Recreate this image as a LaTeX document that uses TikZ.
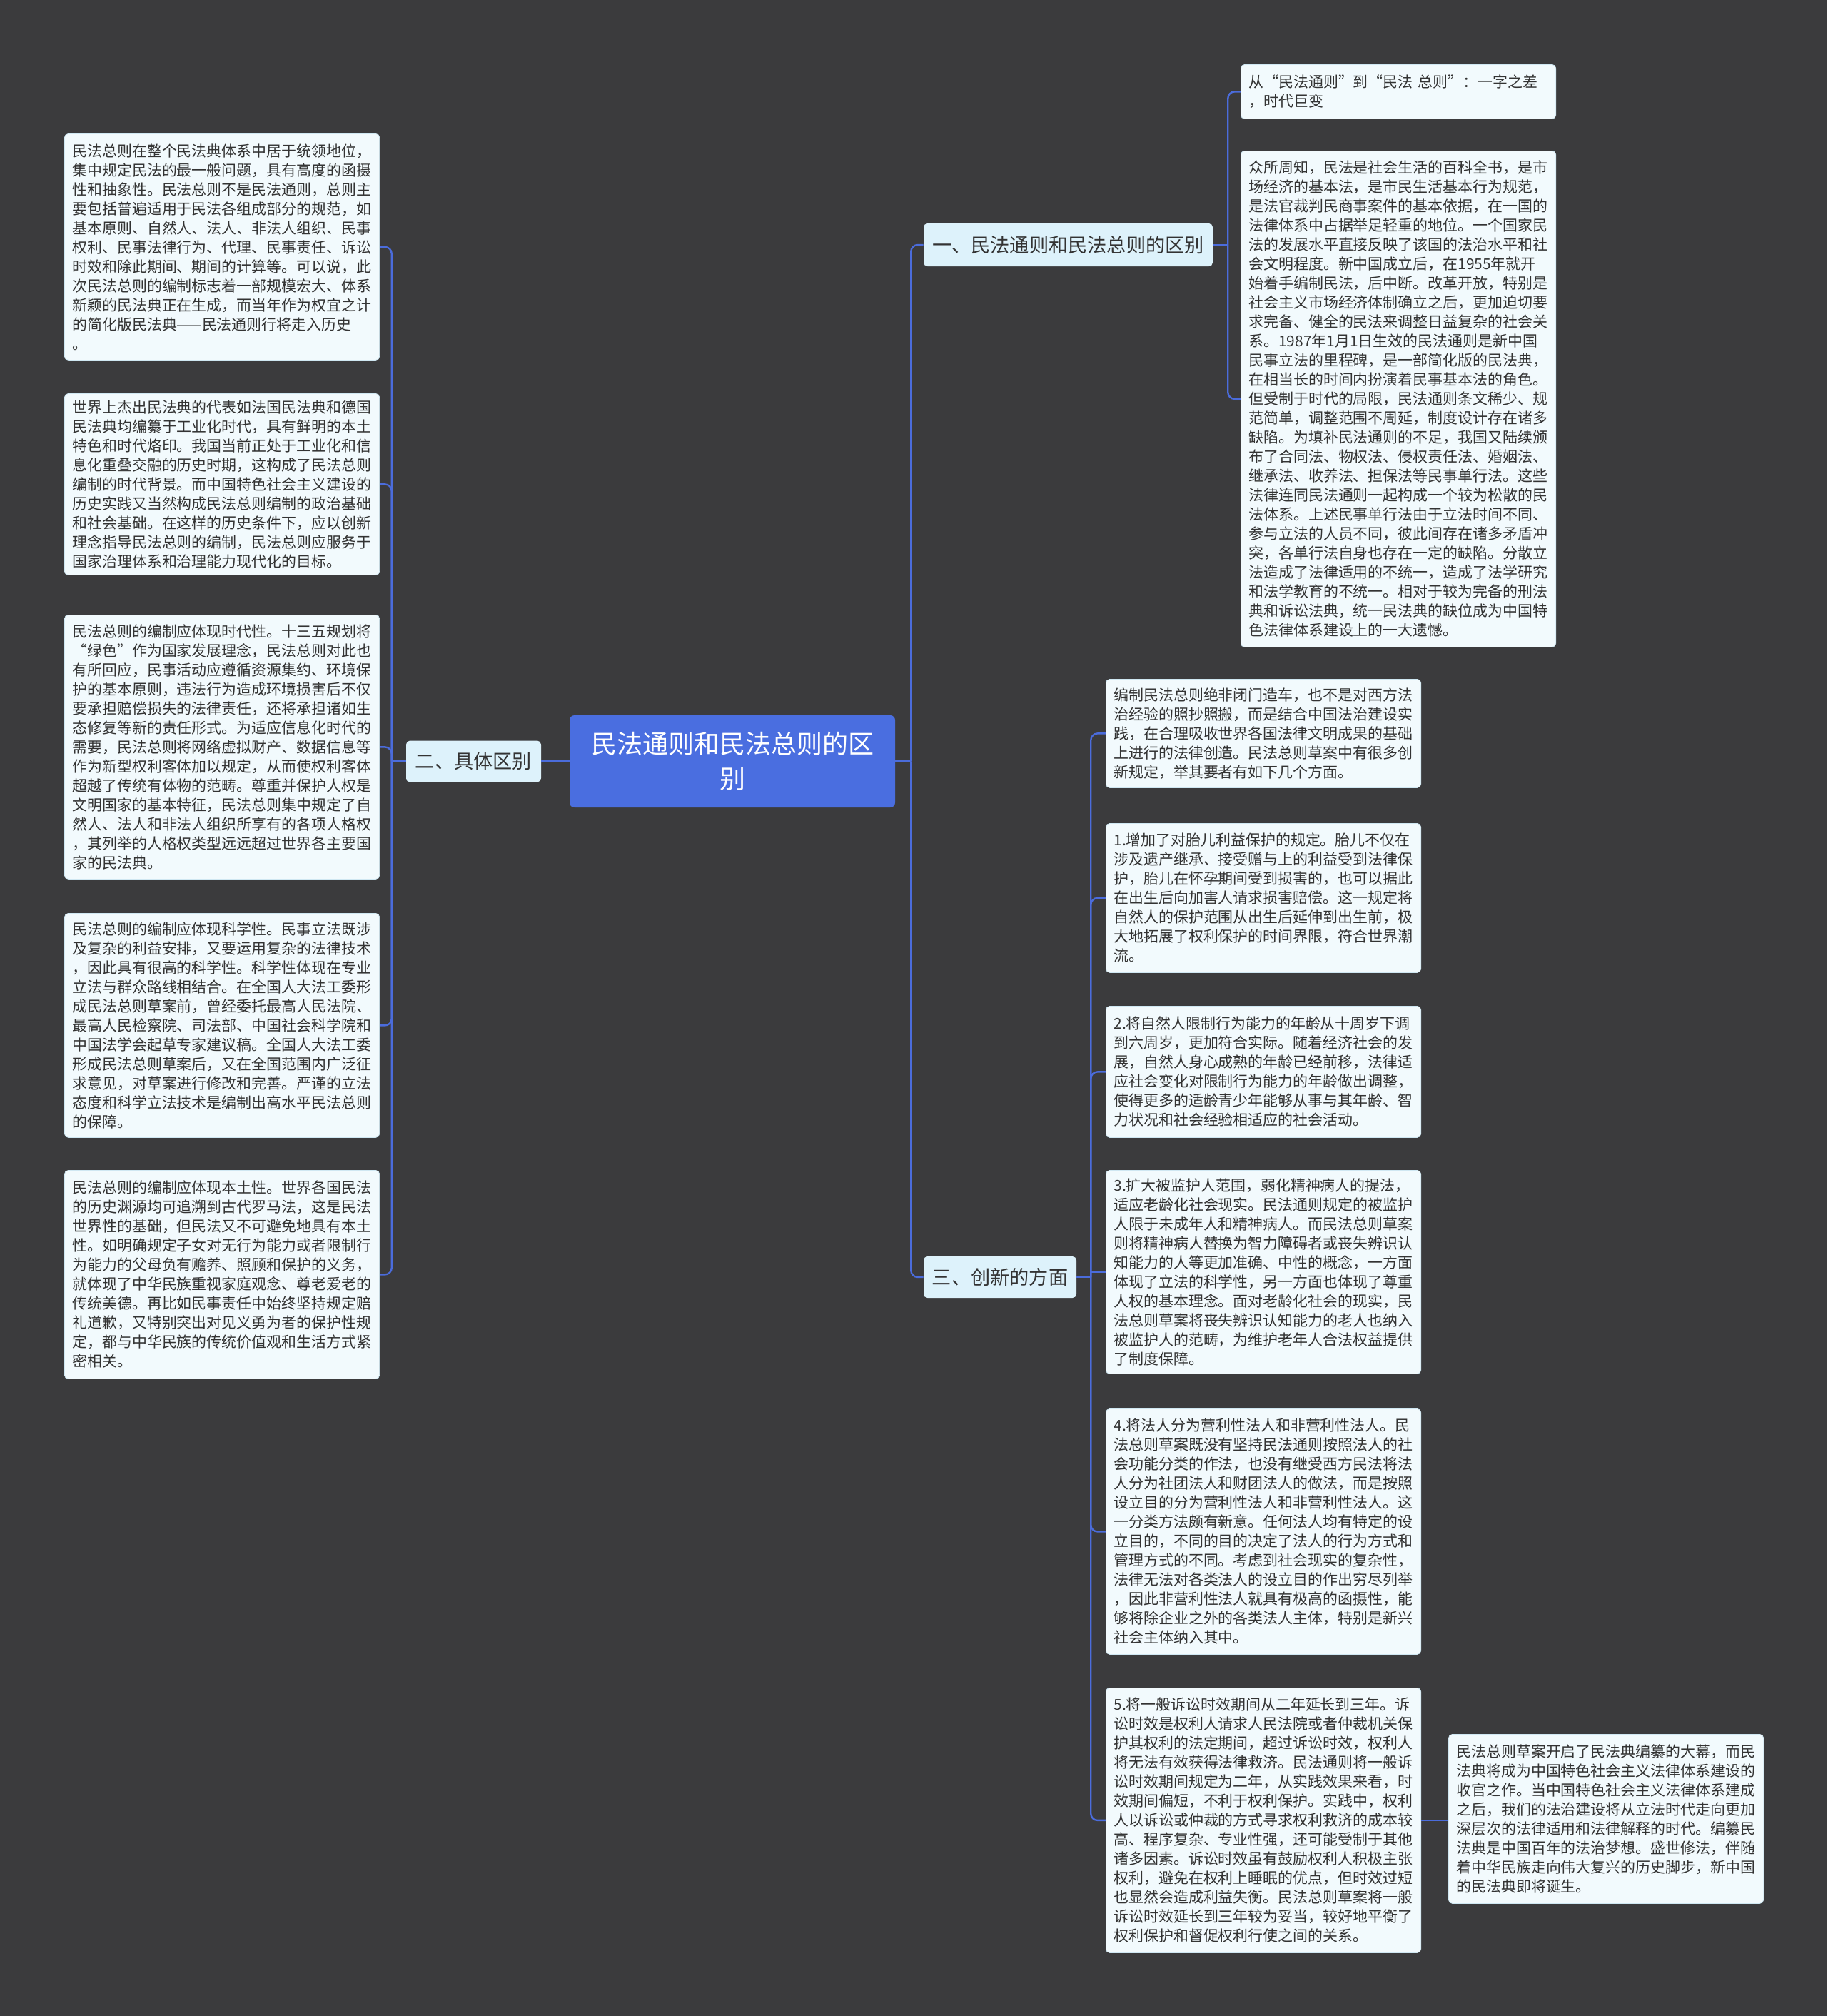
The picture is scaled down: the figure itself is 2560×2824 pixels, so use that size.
\documentclass[tikz,border=0pt]{standalone}
\usepackage{fontspec}
\newfontfamily\cjk{Noto Sans CJK SC}
\definecolor{bgcol}{HTML}{3B3B3D}
\definecolor{rootblue}{HTML}{4A6EE0}
\definecolor{branchfill}{HTML}{DDF2FB}
\definecolor{leaffill}{HTML}{F2FAFD}
\definecolor{leafline}{HTML}{CFE7F2}
\definecolor{conncol}{HTML}{4B6CDC}
\definecolor{textcol}{HTML}{333333}
\newcommand\leafnode[5]{\node[leafbox=#4] (#1) at (#2,#3) {#5};}
\begin{document}
\begin{tikzpicture}[x=0.75pt,y=-0.75pt,
  leafbox/.style={draw=leafline, line width=0.6pt, fill=leaffill, rounded corners=4pt,
    anchor=north west, inner xsep=8.25pt, inner ysep=0pt, text width=314.5pt,
    minimum height=#1*0.75pt, align=left, text=textcol,
    font=\cjk\fontsize{15.7pt}{20.25pt}\selectfont},
  branchbox/.style={fill=branchfill, rounded corners=4pt, inner sep=0pt, align=center,
    text=textcol, font=\cjk\fontsize{20.4pt}{24pt}\selectfont},
  rootbox/.style={fill=rootblue, rounded corners=5pt, inner sep=4pt, align=center,
    text width=330pt, minimum width=456*0.75pt, minimum height=129*0.75pt, text=white,
    font=\cjk\fontsize{27pt}{36.6pt}\selectfont},
  conn/.style={draw=conncol, line width=1.8pt, rounded corners=7pt}
]
\fill[bgcol] (0,0) rectangle (2560,2824);
\useasboundingbox (0,0) rectangle (2560,2824);

% root and branches
\node[rootbox] (root) at (1026,1066.5) {民法通则和民法总则的区\\别};
\node[branchbox, minimum width=405*0.75pt, minimum height=60*0.75pt] (b1) at (1496.5,343) {一、民法通则和民法总则的区别};
\node[branchbox, minimum width=189*0.75pt, minimum height=58*0.75pt] (b2) at (663.5,1066.5) {二、具体区别};
\node[branchbox, minimum width=214*0.75pt, minimum height=58*0.75pt] (b3) at (1401,1789) {三、创新的方面};

% left leaves
\leafnode{l1}{90}{187}{317}{民法总则在整个民法典体系中居于统领地位，\\集中规定民法的最一般问题，具有高度的函摄\\性和抽象性。民法总则不是民法通则，总则主\\要包括普遍适用于民法各组成部分的规范，如\\基本原则、自然人、法人、非法人组织、民事\\权利、民事法律行为、代理、民事责任、诉讼\\时效和除此期间、期间的计算等。可以说，此\\次民法总则的编制标志着一部规模宏大、体系\\新颖的民法典正在生成，而当年作为权宜之计\\的简化版民法典——民法通则行将走入历史\\。}
\leafnode{l2}{90}{551}{254}{世界上杰出民法典的代表如法国民法典和德国\\民法典均编纂于工业化时代，具有鲜明的本土\\特色和时代烙印。我国当前正处于工业化和信\\息化重叠交融的历史时期，这构成了民法总则\\编制的时代背景。而中国特色社会主义建设的\\历史实践又当然构成民法总则编制的政治基础\\和社会基础。在这样的历史条件下，应以创新\\理念指导民法总则的编制，民法总则应服务于\\国家治理体系和治理能力现代化的目标。}
\leafnode{l3}{90}{861}{370}{民法总则的编制应体现时代性。十三五规划将\\“绿色”作为国家发展理念，民法总则对此也\\有所回应，民事活动应遵循资源集约、环境保\\护的基本原则，违法行为造成环境损害后不仅\\要承担赔偿损失的法律责任，还将承担诸如生\\态修复等新的责任形式。为适应信息化时代的\\需要，民法总则将网络虚拟财产、数据信息等\\作为新型权利客体加以规定，从而使权利客体\\超越了传统有体物的范畴。尊重并保护人权是\\文明国家的基本特征，民法总则集中规定了自\\然人、法人和非法人组织所享有的各项人格权\\，其列举的人格权类型远远超过世界各主要国\\家的民法典。}
\leafnode{l4}{90}{1279}{314}{民法总则的编制应体现科学性。民事立法既涉\\及复杂的利益安排，又要运用复杂的法律技术\\，因此具有很高的科学性。科学性体现在专业\\立法与群众路线相结合。在全国人大法工委形\\成民法总则草案前，曾经委托最高人民法院、\\最高人民检察院、司法部、中国社会科学院和\\中国法学会起草专家建议稿。全国人大法工委\\形成民法总则草案后，又在全国范围内广泛征\\求意见，对草案进行修改和完善。严谨的立法\\态度和科学立法技术是编制出高水平民法总则\\的保障。}
\leafnode{l5}{90}{1639}{292}{民法总则的编制应体现本土性。世界各国民法\\的历史渊源均可追溯到古代罗马法，这是民法\\世界性的基础，但民法又不可避免地具有本土\\性。如明确规定子女对无行为能力或者限制行\\为能力的父母负有赡养、照顾和保护的义务，\\就体现了中华民族重视家庭观念、尊老爱老的\\传统美德。再比如民事责任中始终坚持规定赔\\礼道歉，又特别突出对见义勇为者的保护性规\\定，都与中华民族的传统价值观和生活方式紧\\密相关。}

% right leaves of branch 1
\leafnode{r1}{1738}{90}{76}{从“民法通则”到“民法 总则”：一字之差\\，时代巨变}
\leafnode{r2}{1738}{211}{695}{众所周知，民法是社会生活的百科全书，是市\\场经济的基本法，是市民生活基本行为规范，\\是法官裁判民商事案件的基本依据，在一国的\\法律体系中占据举足轻重的地位。一个国家民\\法的发展水平直接反映了该国的法治水平和社\\会文明程度。新中国成立后，在1955年就开\\始着手编制民法，后中断。改革开放，特别是\\社会主义市场经济体制确立之后，更加迫切要\\求完备、健全的民法来调整日益复杂的社会关\\系。1987年1月1日生效的民法通则是新中国\\民事立法的里程碑，是一部简化版的民法典，\\在相当长的时间内扮演着民事基本法的角色。\\但受制于时代的局限，民法通则条文稀少、规\\范简单，调整范围不周延，制度设计存在诸多\\缺陷。为填补民法通则的不足，我国又陆续颁\\布了合同法、物权法、侵权责任法、婚姻法、\\继承法、收养法、担保法等民事单行法。这些\\法律连同民法通则一起构成一个较为松散的民\\法体系。上述民事单行法由于立法时间不同、\\参与立法的人员不同，彼此间存在诸多矛盾冲\\突，各单行法自身也存在一定的缺陷。分散立\\法造成了法律适用的不统一，造成了法学研究\\和法学教育的不统一。相对于较为完备的刑法\\典和诉讼法典，统一民法典的缺位成为中国特\\色法律体系建设上的一大遗憾。}

% leaves of branch 3
\leafnode{c0}{1549}{951}{152}{编制民法总则绝非闭门造车，也不是对西方法\\治经验的照抄照搬，而是结合中国法治建设实\\践，在合理吸收世界各国法律文明成果的基础\\上进行的法律创造。民法总则草案中有很多创\\新规定，举其要者有如下几个方面。}
\leafnode{c1}{1549}{1153}{209}{1.增加了对胎儿利益保护的规定。胎儿不仅在\\涉及遗产继承、接受赠与上的利益受到法律保\\护，胎儿在怀孕期间受到损害的，也可以据此\\在出生后向加害人请求损害赔偿。这一规定将\\自然人的保护范围从出生后延伸到出生前，极\\大地拓展了权利保护的时间界限，符合世界潮\\流。}
\leafnode{c2}{1549}{1409}{184}{2.将自然人限制行为能力的年龄从十周岁下调\\到六周岁，更加符合实际。随着经济社会的发\\展，自然人身心成熟的年龄已经前移，法律适\\应社会变化对限制行为能力的年龄做出调整，\\使得更多的适龄青少年能够从事与其年龄、智\\力状况和社会经验相适应的社会活动。}
\leafnode{c3}{1549}{1639}{285}{3.扩大被监护人范围，弱化精神病人的提法，\\适应老龄化社会现实。民法通则规定的被监护\\人限于未成年人和精神病人。而民法总则草案\\则将精神病人替换为智力障碍者或丧失辨识认\\知能力的人等更加准确、中性的概念，一方面\\体现了立法的科学性，另一方面也体现了尊重\\人权的基本理念。面对老龄化社会的现实，民\\法总则草案将丧失辨识认知能力的老人也纳入\\被监护人的范畴，为维护老年人合法权益提供\\了制度保障。}
\leafnode{c4}{1549}{1973}{344}{4.将法人分为营利性法人和非营利性法人。民\\法总则草案既没有坚持民法通则按照法人的社\\会功能分类的作法，也没有继受西方民法将法\\人分为社团法人和财团法人的做法，而是按照\\设立目的分为营利性法人和非营利性法人。这\\一分类方法颇有新意。任何法人均有特定的设\\立目的，不同的目的决定了法人的行为方式和\\管理方式的不同。考虑到社会现实的复杂性，\\法律无法对各类法人的设立目的作出穷尽列举\\，因此非营利性法人就具有极高的函摄性，能\\够将除企业之外的各类法人主体，特别是新兴\\社会主体纳入其中。}
\leafnode{c5}{1549}{2364}{371}{5.将一般诉讼时效期间从二年延长到三年。诉\\讼时效是权利人请求人民法院或者仲裁机关保\\护其权利的法定期间，超过诉讼时效，权利人\\将无法有效获得法律救济。民法通则将一般诉\\讼时效期间规定为二年，从实践效果来看，时\\效期间偏短，不利于权利保护。实践中，权利\\人以诉讼或仲裁的方式寻求权利救济的成本较\\高、程序复杂、专业性强，还可能受制于其他\\诸多因素。诉讼时效虽有鼓励权利人积极主张\\权利，避免在权利上睡眠的优点，但时效过短\\也显然会造成利益失衡。民法总则草案将一般\\诉讼时效延长到三年较为妥当，较好地平衡了\\权利保护和督促权利行使之间的关系。}
\leafnode{c6}{2029}{2429}{237}{民法总则草案开启了民法典编纂的大幕，而民\\法典将成为中国特色社会主义法律体系建设的\\收官之作。当中国特色社会主义法律体系建成\\之后，我们的法治建设将从立法时代走向更加\\深层次的法律适用和法律解释的时代。编纂民\\法典是中国百年的法治梦想。盛世修法，伴随\\着中华民族走向伟大复兴的历史脚步，新中国\\的民法典即将诞生。}

% connectors
\draw[conn] (root.east) -- ++(22,0) coordinate (j0);
\foreach \t in {b1,b3} \draw[conn] (j0) |- (\t.west);
\draw[conn] (root.west) -- (b2.east);
\draw[conn] (b1.east) -- ++(21,0) coordinate (j1);
\foreach \t in {r1,r2} \draw[conn] (j1) |- (\t.west);
\draw[conn] (b2.west) -- ++(-20,0) coordinate (j2);
\foreach \t in {l1,l2,l3,l4,l5} \draw[conn] (j2) |- (\t.east);
\draw[conn] (b3.east) -- ++(20,0) coordinate (j3);
\foreach \t in {c0,c1,c2,c4,c5} \draw[conn] (j3) |- (\t.west);
\draw[conn] (j3 |- c3.west) -- (c3.west);
\draw[conn] (c5.east) -- (c5.east -| c6.west);
\end{tikzpicture}
\end{document}
